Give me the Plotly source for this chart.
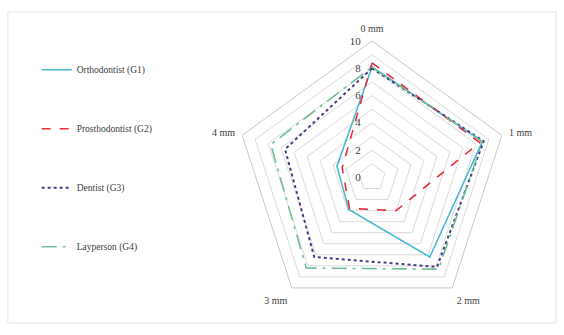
import plotly.graph_objects as go

# Displacement categories around the radar
categories = ["0 mm", "1 mm", "2 mm", "3 mm", "4 mm"]

# Mean attractiveness scores per evaluator group
orthodontist = [8.1, 8.5, 7.2, 2.9, 2.7]
prosthodontist = [8.4, 8.3, 3.0, 2.8, 2.3]
dentist = [8.0, 8.6, 8.1, 7.2, 6.7]
layperson = [8.1, 8.5, 8.3, 8.2, 7.8]

# Radial tick values (rings every unit, labels every two)
ring_values = [0, 1, 2, 3, 4, 5, 6, 7, 8, 9, 10]
ring_labels = ["0", "", "2", "", "4", "", "6", "", "8", "", "10"]

series = [
    ("Orthodontist (G1)", orthodontist, "#4bb8d4", "solid", 1.6),
    ("Prosthodontist (G2)", prosthodontist, "#e8303a", "dash", 1.6),
    ("Dentist (G3)", dentist, "#4a3a8c", "dot", 2.0),
    ("Layperson (G4)", layperson, "#6fbf98", "longdashdot", 1.6),
]

FONT = "Liberation Serif, Times New Roman, serif"

fig = go.Figure()
for i, (name, vals, color, dash, width) in enumerate(series):
    fig.add_trace(go.Scatterpolar(
        r=vals + vals[:1],
        theta=categories + categories[:1],
        mode="lines",
        name=name,
        legendgroup=f"g{i}",
        line=dict(color=color, dash=dash, width=width),
    ))

fig.update_layout(
    width=564,
    height=335,
    margin=dict(l=0, r=0, t=0, b=0),
    paper_bgcolor="white",
    font=dict(family=FONT, size=10, color="#404040"),
    polar=dict(
        domain=dict(x=[0.4176, 0.9016], y=[0.0627, 0.8776]),
        gridshape="linear",
        bgcolor="white",
        radialaxis=dict(
            range=[0, 10],
            angle=90,
            side="counterclockwise",
            tickvals=ring_values,
            ticktext=ring_labels,
            tickangle=90,
            showline=False,
            ticks="outside",
            ticklen=7,
            tickcolor="rgba(0,0,0,0)",
            gridcolor="#dadada",
            gridwidth=0.8,
            tickfont=dict(family=FONT, size=11, color="#404040"),
        ),
        angularaxis=dict(
            rotation=90,
            direction="clockwise",
            showgrid=False,
            showline=True,
            linecolor="#c8c8c8",
            linewidth=1,
            ticks="outside",
            ticklen=5,
            tickcolor="rgba(0,0,0,0)",
            tickfont=dict(family=FONT, size=10, color="#404040"),
        ),
    ),
    legend=dict(
        x=0.065,
        y=0.835,
        xanchor="left",
        yanchor="top",
        traceorder="grouped",
        tracegroupgap=40,
        font=dict(family=FONT, size=9.5, color="#404040"),
        bgcolor="rgba(0,0,0,0)",
    ),
    shapes=[dict(
        type="rect", xref="paper", yref="paper",
        x0=0.014, x1=0.986, y0=0.036, y1=0.964,
        line=dict(color="#e4e4e4", width=1),
    )],
)

fig.write_html("out.html")
